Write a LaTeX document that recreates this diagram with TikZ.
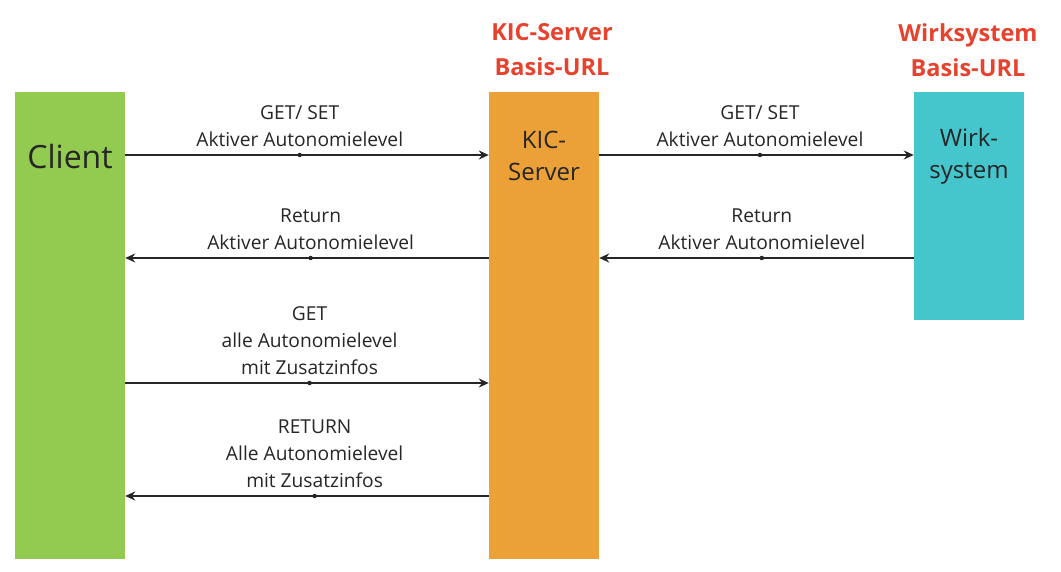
\documentclass[tikz,border=0pt]{standalone}
\usepackage{fontspec}
\setmainfont{Open Sans}
\usepackage{xcolor}
\usetikzlibrary{arrows.meta, positioning, calc}
\definecolor{clientgreen}{HTML}{92CB50}
\definecolor{kicorange}{HTML}{EBA038}
\definecolor{wirkcyan}{HTML}{45C5CC}
\definecolor{urlred}{HTML}{E6432F}
\definecolor{msggray}{HTML}{262626}

\begin{document}
\begin{tikzpicture} [x=1pt, y=-1pt, bar/.style ={rectangle, minimum width=110pt, inner sep=0pt},
	msg/.style ={draw=msggray, line width=2.1pt, -{Stealth[length=10pt, width=9pt]}},
	lbl/.style ={align=center, font=\fontsize{19.2}{27}\selectfont, text=msggray, inner sep=0pt},
	url/.style ={align=center, font=\fontsize{23.5}{35}\selectfont\bfseries, text=urlred, inner sep=0pt},
	dot/.style ={circle, fill=msggray, inner sep=0pt, minimum size=4.5pt}]
	\useasboundingbox (0,0) rectangle (1061,572);
	% bars
	\node[bar, fill=clientgreen, minimum height=467pt] (client) at (70,325.5) {};
	\node[bar, fill=kicorange, minimum height=467pt] (kic) at (544,325.5) {};
	\node[bar, fill=wirkcyan, minimum height=228pt] (wirk) at (969,206) {};
	\node[font=\fontsize{32}{38}\selectfont, text=msggray] (clienttxt) at (70,157) {Client};
	\node[align=center, font=\fontsize{24}{32}\selectfont, text=msggray] (kictxt) at (544,156) {KIC-\\Server};
	\node[align=center, font=\fontsize{24}{32}\selectfont, text=msggray] (wirktxt) at (969,156) {Wirk-\\system};
	% base urls
	\node[url] (kicurl) at (552,50) {KIC-Server\\Basis-URL};
	\node[url] (wirkurl) at (968,50) {Wirksystem\\Basis-URL};
	% messages
	\draw[msg] (client.east |- 0,155) -- node[pos=.48, dot] {} node[pos=.48, lbl, above=7pt] {GET/ SET\\Aktiver Autonomielevel} (kic.west |- 0,155);
	\draw[msg] (kic.west |- 0,258) -- node[pos=.49, dot] {} node[pos=.49, lbl, above=7pt] {Return\\Aktiver Autonomielevel} (client.east |- 0,258);
	\draw[msg] (client.east |- 0,383) -- node[pos=.507, dot] {} node[pos=.507, lbl, above=7pt] {GET\\alle Autonomielevel\\mit Zusatzinfos} (kic.west |- 0,383);
	\draw[msg] (kic.west |- 0,496) -- node[pos=.479, dot] {} node[pos=.479, lbl, above=7pt] {RETURN\\Alle Autonomielevel\\mit Zusatzinfos} (client.east |- 0,496);
	\draw[msg] (kic.east |- 0,155) -- node[pos=.511, dot] {} node[pos=.511, lbl, above=7pt] {GET/ SET\\Aktiver Autonomielevel} (wirk.west |- 0,155);
	\draw[msg] (wirk.west |- 0,258) -- node[pos=.483, dot] {} node[pos=.483, lbl, above=7pt] {Return\\Aktiver Autonomielevel} (kic.east |- 0,258);
\end{tikzpicture}
\end{document}
